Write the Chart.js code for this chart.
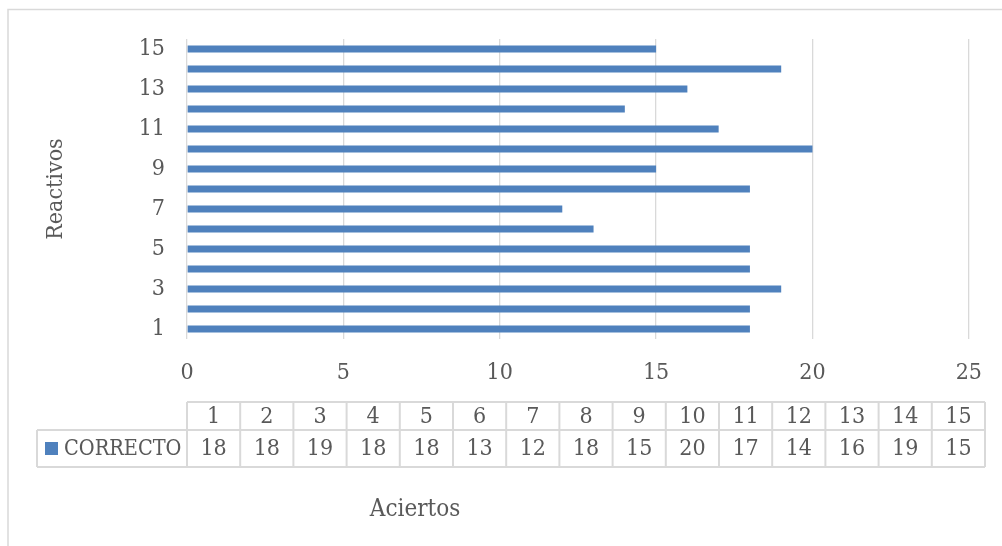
<!DOCTYPE html>
<html>
<head>
<meta charset="utf-8">
<script src="https://cdn.jsdelivr.net/npm/chart.js@4/dist/chart.umd.min.js"></script>
<style>
  html, body { margin: 0; padding: 0; background: #fff; }
  #wrap { position: relative; width: 1002px; height: 546px; }
</style>
</head>
<body>
<div id="wrap"><canvas id="c"></canvas></div>
<script>
// Reactivos (items) and number of correct answers per item
const reactivos = ['1', '2', '3', '4', '5', '6', '7', '8', '9', '10', '11', '12', '13', '14', '15'];
const correctos = [18, 18, 19, 18, 18, 13, 12, 18, 15, 20, 17, 14, 16, 19, 15];
const xTickValues = [0, 5, 10, 15, 20, 25];
const seriesName = 'CORRECTO';
const xTitle = 'Aciertos';
const yTitle = 'Reactivos';

const FONT_FAMILY = '"DejaVu Serif Condensed", "DejaVu Serif", serif';
const TEXT_COLOR = '#595959';
const LINE_COLOR = '#d9d9d9';
const BAR_COLOR = '#4f81bd';
const FONT_SIZE = 23;

// Frame, data table under the axis and the horizontal axis title
const tablePlugin = {
  id: 'dataTable',
  afterDraw(chart) {
    const ctx = chart.ctx;
    const area = chart.chartArea;
    ctx.save();

    // outer frame
    ctx.strokeStyle = LINE_COLOR;
    ctx.lineWidth = 1.5;
    ctx.strokeRect(8, 9.5, 3000, 3000);

    // table geometry
    const left = area.left;
    const right = 985;
    const legendLeft = 37;
    const rowTop = 402, rowMid = 430, rowBottom = 467;
    const n = reactivos.length;
    const colW = (right - left) / n;

    ctx.lineWidth = 2;
    ctx.strokeStyle = LINE_COLOR;
    ctx.beginPath();
    ctx.moveTo(left, rowTop); ctx.lineTo(right, rowTop);
    ctx.moveTo(legendLeft, rowMid); ctx.lineTo(right, rowMid);
    ctx.moveTo(legendLeft, rowBottom); ctx.lineTo(right, rowBottom);
    ctx.moveTo(legendLeft, rowMid); ctx.lineTo(legendLeft, rowBottom);
    for (let i = 0; i <= n; i++) {
      const x = left + i * colW;
      ctx.moveTo(x, rowTop); ctx.lineTo(x, rowBottom);
    }
    ctx.stroke();

    ctx.fillStyle = TEXT_COLOR;
    ctx.font = FONT_SIZE + 'px ' + FONT_FAMILY;
    ctx.textAlign = 'center';
    ctx.textBaseline = 'middle';
    for (let i = 0; i < n; i++) {
      const cx = left + (i + 0.5) * colW;
      ctx.fillText(reactivos[i], cx, (rowTop + rowMid) / 2 + 1);
      ctx.fillText(String(correctos[i]), cx, (rowMid + rowBottom) / 2 + 1);
    }

    // legend key
    ctx.fillStyle = BAR_COLOR;
    ctx.fillRect(45, 442, 13, 13);
    ctx.fillStyle = TEXT_COLOR;
    ctx.font = '21.5px ' + FONT_FAMILY;
    ctx.textAlign = 'left';
    ctx.fillText(seriesName, 64, (rowMid + rowBottom) / 2 + 1);

    // horizontal axis title
    ctx.font = '24px ' + FONT_FAMILY;
    ctx.textAlign = 'center';
    ctx.fillText(xTitle, 415, 510);
    ctx.restore();
  }
};

new Chart(document.getElementById('c'), {
  type: 'bar',
  data: {
    labels: reactivos,
    datasets: [{
      label: seriesName,
      data: correctos,
      backgroundColor: BAR_COLOR,
      borderWidth: 0,
      categoryPercentage: 1,
      barPercentage: 0.34
    }]
  },
  options: {
    indexAxis: 'y',
    responsive: true,
    maintainAspectRatio: false,
    animation: false,
    layout: { padding: { left: 30, right: 30, top: 39, bottom: 0 } },
    plugins: {
      legend: { display: false },
      tooltip: { enabled: false }
    },
    scales: {
      x: {
        min: 0,
        max: 25,
        afterBuildTicks(scale) {
          scale.ticks = xTickValues.map(v => ({ value: v }));
        },
        afterFit(scale) { scale.height = 207; },
        grid: { color: LINE_COLOR, lineWidth: 1.3, drawTicks: false },
        border: { display: false },
        ticks: {
          padding: 20,
          color: TEXT_COLOR,
          font: { family: FONT_FAMILY, size: FONT_SIZE }
        }
      },
      y: {
        reverse: true,
        afterFit(scale) { scale.width = 157; },
        grid: { display: false, drawTicks: false },
        border: { display: false },
        ticks: {
          autoSkip: false,
          padding: 22,
          color: TEXT_COLOR,
          font: { family: FONT_FAMILY, size: FONT_SIZE },
          callback: (v, i) => (i % 2 === 0 ? reactivos[i] : '')
        },
        title: {
          display: true,
          text: yTitle,
          color: TEXT_COLOR,
          font: { family: FONT_FAMILY, size: FONT_SIZE },
          padding: { top: 12, bottom: 0 }
        }
      }
    }
  },
  plugins: [tablePlugin]
});
</script>
</body>
</html>
